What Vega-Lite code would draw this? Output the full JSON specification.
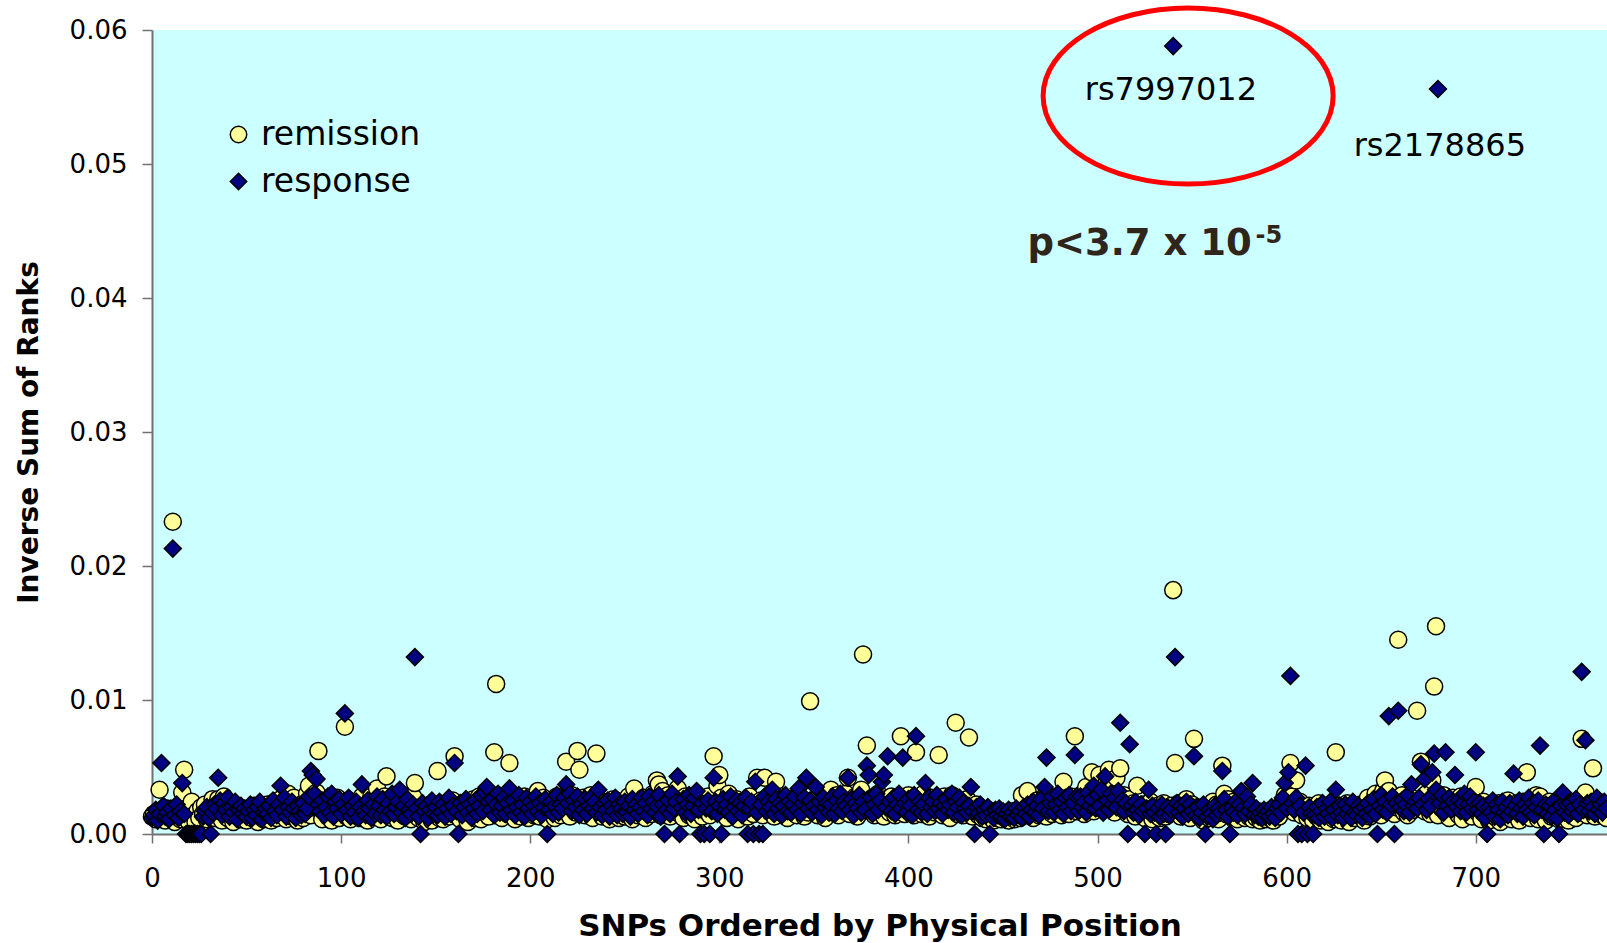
{
"$schema":"https://vega.github.io/schema/vega-lite/v6.json",
"width":1455,"height":804,
"autosize":{"type":"none"},
"padding":{"left":152,"top":30,"right":0,"bottom":109},
"background":"white",
"config":{"view":{"fill":"#CCFFFF","stroke":null}},
"encoding":{
"x":{"field":"x","type":"quantitative","scale":{"domain":[0,769.4],"nice":false,"zero":false},"axis":{"values":[0,100,200,300,400,500,600,700],"title":"SNPs Ordered by Physical Position","grid":false,"domainColor":"#707070","domainWidth":2,"tickColor":"#707070","tickWidth":1.5,"tickSize":9,"labelFont":"DejaVu Sans","labelFontSize":26,"labelColor":"black","labelPadding":22,"labelFlush":false,"titleFont":"DejaVu Sans","titleFontSize":31,"titleFontWeight":"bold","titleColor":"black","titlePadding":20}},
"y":{"field":"y","type":"quantitative","scale":{"domain":[0,0.06],"nice":false},"axis":{"values":[0,0.01,0.02,0.03,0.04,0.05,0.06],"format":".2f","title":"Inverse Sum of Ranks","grid":false,"domainColor":"#707070","domainWidth":2,"tickColor":"#707070","tickWidth":1.5,"tickSize":10,"labelFont":"DejaVu Sans","labelFontSize":26,"labelColor":"black","labelPadding":15,"labelFlush":false,"titleFont":"DejaVu Sans","titleFontSize":28,"titleFontWeight":"bold","titleColor":"black","titlePadding":26}}
},
"layer":[
{"data":{"values":[
{"x":0,"remission":0.0013,"response":0.0012},{"x":1,"remission":0.0015,"response":0.0014},{"x":2,"remission":0.0011,"response":0.0018},{"x":3,"remission":0.0017,"response":0.0010},{"x":4,"remission":0.0033,"response":0.0015},{"x":5,"remission":0.0012,"response":0.0053},{"x":6,"remission":0.0016,"response":0.0021},{"x":7,"remission":0.0010,"response":0.0013},{"x":8,"remission":0.0019,"response":0.0016},{"x":9,"remission":0.0014,"response":0.0011},
{"x":10,"remission":0.0012,"response":0.0019},{"x":11,"remission":0.0233,"response":0.0213},{"x":12,"remission":0.0009,"response":0.0014},{"x":13,"remission":0.0016,"response":0.0022},{"x":14,"remission":0.0020,"response":0.0012},{"x":15,"remission":0.0011,"response":0.0017},{"x":16,"remission":0.0031,"response":0.0038},{"x":17,"remission":0.0048,"response":0.0015},{"x":18,"remission":0.0013,"response":0},{"x":19,"remission":0.0010,"response":0},
{"x":20,"remission":0.0018,"response":0},{"x":21,"remission":0.0024,"response":0},{"x":22,"remission":0.0014,"response":0},{"x":23,"remission":0.0009,"response":0},{"x":24,"remission":0.0017,"response":0},{"x":25,"remission":0.0012,"response":0},{"x":26,"remission":0.0020,"response":0},{"x":27,"remission":0.0015,"response":0.0013},{"x":28,"remission":0.0022,"response":0.0017},{"x":29,"remission":0.0011,"response":0.0020},
{"x":30,"remission":0.0019,"response":0.0012},{"x":31,"remission":0.0014,"response":0},{"x":32,"remission":0.0026,"response":0.0016},{"x":33,"remission":0.0012,"response":0.0022},{"x":34,"remission":0.0017,"response":0.0019},{"x":35,"remission":0.0026,"response":0.0042},{"x":36,"remission":0.0021,"response":0.0025},{"x":37,"remission":0.0010,"response":0.0014},{"x":38,"remission":0.0028,"response":0.0023},{"x":39,"remission":0.0015,"response":0.0018},
{"x":40,"remission":0.0012,"response":0.0027},{"x":41,"remission":0.0018,"response":0.0013},{"x":42,"remission":0.0023,"response":0.0020},{"x":43,"remission":0.0009,"response":0.0016},{"x":44,"remission":0.0016,"response":0.0024},{"x":45,"remission":0.0020,"response":0.0011},{"x":46,"remission":0.0013,"response":0.0018},{"x":47,"remission":0.0011,"response":0.0021},{"x":48,"remission":0.0017,"response":0.0015},{"x":49,"remission":0.0014,"response":0.0019},
{"x":50,"remission":0.0010,"response":0.0013},{"x":51,"remission":0.0019,"response":0.0017},{"x":52,"remission":0.0015,"response":0.0022},{"x":53,"remission":0.0012,"response":0.0012},{"x":54,"remission":0.0021,"response":0.0018},{"x":55,"remission":0.0016,"response":0.0014},{"x":56,"remission":0.0009,"response":0.0020},{"x":57,"remission":0.0014,"response":0.0024},{"x":58,"remission":0.0018,"response":0.0011},{"x":59,"remission":0.0011,"response":0.0016},
{"x":60,"remission":0.0013,"response":0.0019},{"x":61,"remission":0.0022,"response":0.0015},{"x":62,"remission":0.0017,"response":0.0021},{"x":63,"remission":0.0010,"response":0.0012},{"x":64,"remission":0.0015,"response":0.0025},{"x":65,"remission":0.0024,"response":0.0017},{"x":66,"remission":0.0012,"response":0.0014},{"x":67,"remission":0.0019,"response":0.0022},{"x":68,"remission":0.0026,"response":0.0036},{"x":69,"remission":0.0014,"response":0.0018},
{"x":70,"remission":0.0021,"response":0.0027},{"x":71,"remission":0.0011,"response":0.0013},{"x":72,"remission":0.0030,"response":0.0020},{"x":73,"remission":0.0016,"response":0.0016},{"x":74,"remission":0.0013,"response":0.0024},{"x":75,"remission":0.0027,"response":0.0019},{"x":76,"remission":0.0018,"response":0.0012},{"x":77,"remission":0.0010,"response":0.0021},{"x":78,"remission":0.0015,"response":0.0017},{"x":79,"remission":0.0022,"response":0.0014},
{"x":80,"remission":0.0012,"response":0.0023},{"x":81,"remission":0.0017,"response":0.0015},{"x":82,"remission":0.0030,"response":0.0019},{"x":83,"remission":0.0036,"response":0.0028},{"x":84,"remission":0.0014,"response":0.0047},{"x":85,"remission":0.0020,"response":0.0044},{"x":86,"remission":0.0025,"response":0.0030},{"x":87,"remission":0.0031,"response":0.0041},{"x":88,"remission":0.0062,"response":0.0022},{"x":89,"remission":0.0019,"response":0.0017},
{"x":90,"remission":0.0011,"response":0.0025},{"x":91,"remission":0.0024,"response":0.0014},{"x":92,"remission":0.0016,"response":0.0020},{"x":93,"remission":0.0013,"response":0.0028},{"x":94,"remission":0.0021,"response":0.0016},{"x":95,"remission":0.0010,"response":0.0030},{"x":96,"remission":0.0018,"response":0.0013},{"x":97,"remission":0.0014,"response":0.0024},{"x":98,"remission":0.0027,"response":0.0019},{"x":99,"remission":0.0012,"response":0.0026},
{"x":100,"remission":0.0016,"response":0.0015},{"x":101,"remission":0.0020,"response":0.0022},{"x":102,"remission":0.0080,"response":0.0090},{"x":103,"remission":0.0013,"response":0.0018},{"x":104,"remission":0.0025,"response":0.0027},{"x":105,"remission":0.0011,"response":0.0013},{"x":106,"remission":0.0017,"response":0.0021},{"x":107,"remission":0.0022,"response":0.0016},{"x":108,"remission":0.0014,"response":0.0024},{"x":109,"remission":0.0019,"response":0.0012},
{"x":110,"remission":0.0012,"response":0.0020},{"x":111,"remission":0.0028,"response":0.0037},{"x":112,"remission":0.0015,"response":0.0017},{"x":113,"remission":0.0021,"response":0.0014},{"x":114,"remission":0.0010,"response":0.0025},{"x":115,"remission":0.0018,"response":0.0019},{"x":116,"remission":0.0028,"response":0.0012},{"x":117,"remission":0.0013,"response":0.0022},{"x":118,"remission":0.0024,"response":0.0015},{"x":119,"remission":0.0034,"response":0.0028},
{"x":120,"remission":0.0016,"response":0.0021},{"x":121,"remission":0.0011,"response":0.0014},{"x":122,"remission":0.0020,"response":0.0026},{"x":123,"remission":0.0028,"response":0.0018},{"x":124,"remission":0.0043,"response":0.0013},{"x":125,"remission":0.0014,"response":0.0023},{"x":126,"remission":0.0019,"response":0.0017},{"x":127,"remission":0.0012,"response":0.0030},{"x":128,"remission":0.0023,"response":0.0015},{"x":129,"remission":0.0017,"response":0.0020},
{"x":130,"remission":0.0010,"response":0.0024},{"x":131,"remission":0.0022,"response":0.0033},{"x":132,"remission":0.0015,"response":0.0016},{"x":133,"remission":0.0027,"response":0.0021},{"x":134,"remission":0.0013,"response":0.0012},{"x":135,"remission":0.0018,"response":0.0026},{"x":136,"remission":0.0024,"response":0.0018},{"x":137,"remission":0.0011,"response":0.0015},{"x":138,"remission":0.0028,"response":0.0022},{"x":139,"remission":0.0038,"response":0.0132},
{"x":140,"remission":0.0016,"response":0.0019},{"x":141,"remission":0.0012,"response":0.0013},{"x":142,"remission":0.0020,"response":0},{"x":143,"remission":0.0014,"response":0.0023},{"x":144,"remission":0.0009,"response":0.0017},{"x":145,"remission":0.0017,"response":0.0021},{"x":146,"remission":0.0021,"response":0.0012},{"x":147,"remission":0.0013,"response":0.0018},{"x":148,"remission":0.0010,"response":0.0025},{"x":149,"remission":0.0018,"response":0.0015},
{"x":150,"remission":0.0015,"response":0.0020},{"x":151,"remission":0.0047,"response":0.0014},{"x":152,"remission":0.0012,"response":0.0024},{"x":153,"remission":0.0019,"response":0.0016},{"x":154,"remission":0.0011,"response":0.0022},{"x":155,"remission":0.0016,"response":0.0013},{"x":156,"remission":0.0022,"response":0.0019},{"x":157,"remission":0.0013,"response":0.0027},{"x":158,"remission":0.0018,"response":0.0015},{"x":159,"remission":0.0025,"response":0.0021},
{"x":160,"remission":0.0058,"response":0.0053},{"x":161,"remission":0.0014,"response":0.0017},{"x":162,"remission":0.0020,"response":0},{"x":163,"remission":0.0011,"response":0.0023},{"x":164,"remission":0.0017,"response":0.0014},{"x":165,"remission":0.0023,"response":0.0020},{"x":166,"remission":0.0013,"response":0.0026},{"x":167,"remission":0.0009,"response":0.0016},{"x":168,"remission":0.0019,"response":0.0022},{"x":169,"remission":0.0015,"response":0.0012},
{"x":170,"remission":0.0026,"response":0.0019},{"x":171,"remission":0.0012,"response":0.0025},{"x":172,"remission":0.0018,"response":0.0015},{"x":173,"remission":0.0028,"response":0.0021},{"x":174,"remission":0.0011,"response":0.0029},{"x":175,"remission":0.0022,"response":0.0017},{"x":176,"remission":0.0016,"response":0.0031},{"x":177,"remission":0.0027,"response":0.0035},{"x":178,"remission":0.0013,"response":0.0024},{"x":179,"remission":0.0020,"response":0.0018},
{"x":180,"remission":0.0029,"response":0.0026},{"x":181,"remission":0.0061,"response":0.0014},{"x":182,"remission":0.0112,"response":0.0022},{"x":183,"remission":0.0017,"response":0.0030},{"x":184,"remission":0.0024,"response":0.0016},{"x":185,"remission":0.0012,"response":0.0021},{"x":186,"remission":0.0019,"response":0.0027},{"x":187,"remission":0.0028,"response":0.0015},{"x":188,"remission":0.0015,"response":0.0023},{"x":189,"remission":0.0053,"response":0.0034},
{"x":190,"remission":0.0014,"response":0.0018},{"x":191,"remission":0.0021,"response":0.0025},{"x":192,"remission":0.0011,"response":0.0014},{"x":193,"remission":0.0026,"response":0.0020},{"x":194,"remission":0.0017,"response":0.0029},{"x":195,"remission":0.0013,"response":0.0016},{"x":196,"remission":0.0022,"response":0.0022},{"x":197,"remission":0.0028,"response":0.0013},{"x":198,"remission":0.0016,"response":0.0027},{"x":199,"remission":0.0012,"response":0.0019},
{"x":200,"remission":0.0025,"response":0.0024},{"x":201,"remission":0.0018,"response":0.0015},{"x":202,"remission":0.0014,"response":0.0021},{"x":203,"remission":0.0021,"response":0.0028},{"x":204,"remission":0.0032,"response":0.0017},{"x":205,"remission":0.0013,"response":0.0023},{"x":206,"remission":0.0019,"response":0.0014},{"x":207,"remission":0.0027,"response":0.0020},{"x":208,"remission":0.0015,"response":0.0026},{"x":209,"remission":0.0011,"response":0},
{"x":210,"remission":0.0020,"response":0.0018},{"x":211,"remission":0.0016,"response":0.0024},{"x":212,"remission":0.0023,"response":0.0015},{"x":213,"remission":0.0012,"response":0.0021},{"x":214,"remission":0.0028,"response":0.0029},{"x":215,"remission":0.0017,"response":0.0016},{"x":216,"remission":0.0014,"response":0.0022},{"x":217,"remission":0.0026,"response":0.0019},{"x":218,"remission":0.0021,"response":0.0027},{"x":219,"remission":0.0054,"response":0.0037},
{"x":220,"remission":0.0018,"response":0.0023},{"x":221,"remission":0.0013,"response":0.0030},{"x":222,"remission":0.0029,"response":0.0017},{"x":223,"remission":0.0022,"response":0.0025},{"x":224,"remission":0.0016,"response":0.0020},{"x":225,"remission":0.0062,"response":0.0028},{"x":226,"remission":0.0048,"response":0.0014},{"x":227,"remission":0.0020,"response":0.0022},{"x":228,"remission":0.0027,"response":0.0018},{"x":229,"remission":0.0014,"response":0.0026},
{"x":230,"remission":0.0024,"response":0.0015},{"x":231,"remission":0.0017,"response":0.0021},{"x":232,"remission":0.0029,"response":0.0027},{"x":233,"remission":0.0012,"response":0.0019},{"x":234,"remission":0.0021,"response":0.0024},{"x":235,"remission":0.0060,"response":0.0016},{"x":236,"remission":0.0018,"response":0.0033},{"x":237,"remission":0.0025,"response":0.0020},{"x":238,"remission":0.0013,"response":0.0014},{"x":239,"remission":0.0020,"response":0.0023},
{"x":240,"remission":0.0015,"response":0.0018},{"x":241,"remission":0.0022,"response":0.0025},{"x":242,"remission":0.0011,"response":0.0013},{"x":243,"remission":0.0018,"response":0.0021},{"x":244,"remission":0.0026,"response":0.0017},{"x":245,"remission":0.0014,"response":0.0027},{"x":246,"remission":0.0020,"response":0.0014},{"x":247,"remission":0.0012,"response":0.0022},{"x":248,"remission":0.0017,"response":0.0019},{"x":249,"remission":0.0023,"response":0.0015},
{"x":250,"remission":0.0013,"response":0.0024},{"x":251,"remission":0.0019,"response":0.0016},{"x":252,"remission":0.0028,"response":0.0021},{"x":253,"remission":0.0015,"response":0.0013},{"x":254,"remission":0.0011,"response":0.0026},{"x":255,"remission":0.0034,"response":0.0018},{"x":256,"remission":0.0018,"response":0.0022},{"x":257,"remission":0.0014,"response":0.0015},{"x":258,"remission":0.0022,"response":0.0020},{"x":259,"remission":0.0016,"response":0.0027},
{"x":260,"remission":0.0027,"response":0.0017},{"x":261,"remission":0.0012,"response":0.0023},{"x":262,"remission":0.0020,"response":0.0014},{"x":263,"remission":0.0025,"response":0.0028},{"x":264,"remission":0.0015,"response":0.0019},{"x":265,"remission":0.0030,"response":0.0024},{"x":266,"remission":0.0018,"response":0.0016},{"x":267,"remission":0.0040,"response":0.0021},{"x":268,"remission":0.0037,"response":0.0029},{"x":269,"remission":0.0014,"response":0.0013},
{"x":270,"remission":0.0032,"response":0.0022},{"x":271,"remission":0.0020,"response":0},{"x":272,"remission":0.0016,"response":0.0018},{"x":273,"remission":0.0029,"response":0.0025},{"x":274,"remission":0.0013,"response":0.0015},{"x":275,"remission":0.0022,"response":0.0030},{"x":276,"remission":0.0018,"response":0.0019},{"x":277,"remission":0.0026,"response":0.0024},{"x":278,"remission":0.0034,"response":0.0043},{"x":279,"remission":0.0015,"response":0},
{"x":280,"remission":0.0021,"response":0.0020},{"x":281,"remission":0.0012,"response":0.0026},{"x":282,"remission":0.0028,"response":0.0016},{"x":283,"remission":0.0017,"response":0.0022},{"x":284,"remission":0.0014,"response":0.0029},{"x":285,"remission":0.0023,"response":0.0015},{"x":286,"remission":0.0019,"response":0.0021},{"x":287,"remission":0.0011,"response":0.0027},{"x":288,"remission":0.0025,"response":0.0032},{"x":289,"remission":0.0016,"response":0.0018},
{"x":290,"remission":0.0020,"response":0},{"x":291,"remission":0.0013,"response":0.0023},{"x":292,"remission":0.0024,"response":0},{"x":293,"remission":0.0017,"response":0.0019},{"x":294,"remission":0.0028,"response":0.0025},{"x":295,"remission":0.0014,"response":0},{"x":296,"remission":0.0021,"response":0.0017},{"x":297,"remission":0.0058,"response":0.0042},{"x":298,"remission":0.0018,"response":0.0024},{"x":299,"remission":0.0036,"response":0.0015},
{"x":300,"remission":0.0044,"response":0.0021},{"x":301,"remission":0.0027,"response":0},{"x":302,"remission":0.0015,"response":0.0026},{"x":303,"remission":0.0020,"response":0.0018},{"x":304,"remission":0.0012,"response":0.0022},{"x":305,"remission":0.0030,"response":0.0016},{"x":306,"remission":0.0017,"response":0.0028},{"x":307,"remission":0.0023,"response":0.0013},{"x":308,"remission":0.0014,"response":0.0020},{"x":309,"remission":0.0026,"response":0.0025},
{"x":310,"remission":0.0011,"response":0.0017},{"x":311,"remission":0.0019,"response":0.0023},{"x":312,"remission":0.0024,"response":0.0014},{"x":313,"remission":0.0016,"response":0.0021},{"x":314,"remission":0.0021,"response":0.0027},{"x":315,"remission":0.0013,"response":0},{"x":316,"remission":0.0028,"response":0.0019},{"x":317,"remission":0.0018,"response":0.0024},{"x":318,"remission":0.0015,"response":0},{"x":319,"remission":0.0022,"response":0.0039},
{"x":320,"remission":0.0042,"response":0.0016},{"x":321,"remission":0.0017,"response":0},{"x":322,"remission":0.0025,"response":0.0022},{"x":323,"remission":0.0014,"response":0},{"x":324,"remission":0.0042,"response":0.0028},{"x":325,"remission":0.0020,"response":0.0017},{"x":326,"remission":0.0027,"response":0.0024},{"x":327,"remission":0.0016,"response":0.0020},{"x":328,"remission":0.0030,"response":0.0033},{"x":329,"remission":0.0013,"response":0.0015},
{"x":330,"remission":0.0039,"response":0.0026},{"x":331,"remission":0.0022,"response":0.0019},{"x":332,"remission":0.0018,"response":0.0023},{"x":333,"remission":0.0028,"response":0.0014},{"x":334,"remission":0.0015,"response":0.0021},{"x":335,"remission":0.0024,"response":0.0029},{"x":336,"remission":0.0012,"response":0.0017},{"x":337,"remission":0.0019,"response":0.0024},{"x":338,"remission":0.0026,"response":0.0016},{"x":339,"remission":0.0016,"response":0.0022},
{"x":340,"remission":0.0021,"response":0.0028},{"x":341,"remission":0.0014,"response":0.0018},{"x":342,"remission":0.0027,"response":0.0034},{"x":343,"remission":0.0018,"response":0.0015},{"x":344,"remission":0.0023,"response":0.0023},{"x":345,"remission":0.0013,"response":0.0027},{"x":346,"remission":0.0020,"response":0.0042},{"x":347,"remission":0.0016,"response":0.0019},{"x":348,"remission":0.0099,"response":0.0025},{"x":349,"remission":0.0025,"response":0.0016},
{"x":350,"remission":0.0017,"response":0.0021},{"x":351,"remission":0.0022,"response":0.0035},{"x":352,"remission":0.0014,"response":0.0018},{"x":353,"remission":0.0028,"response":0.0024},{"x":354,"remission":0.0019,"response":0.0014},{"x":355,"remission":0.0024,"response":0.0027},{"x":356,"remission":0.0012,"response":0.0020},{"x":357,"remission":0.0027,"response":0.0023},{"x":358,"remission":0.0020,"response":0.0016},{"x":359,"remission":0.0033,"response":0.0022},
{"x":360,"remission":0.0016,"response":0.0028},{"x":361,"remission":0.0023,"response":0.0015},{"x":362,"remission":0.0029,"response":0.0025},{"x":363,"remission":0.0014,"response":0.0019},{"x":364,"remission":0.0021,"response":0.0030},{"x":365,"remission":0.0026,"response":0.0017},{"x":366,"remission":0.0018,"response":0.0024},{"x":367,"remission":0.0030,"response":0.0021},{"x":368,"remission":0.0042,"response":0.0042},{"x":369,"remission":0.0015,"response":0.0018},
{"x":370,"remission":0.0025,"response":0.0026},{"x":371,"remission":0.0020,"response":0.0014},{"x":372,"remission":0.0028,"response":0.0023},{"x":373,"remission":0.0013,"response":0.0019},{"x":374,"remission":0.0022,"response":0.0029},{"x":375,"remission":0.0033,"response":0.0016},{"x":376,"remission":0.0134,"response":0.0024},{"x":377,"remission":0.0019,"response":0.0018},{"x":378,"remission":0.0066,"response":0.0051},{"x":379,"remission":0.0024,"response":0.0044},
{"x":380,"remission":0.0017,"response":0.0027},{"x":381,"remission":0.0027,"response":0.0015},{"x":382,"remission":0.0014,"response":0.0022},{"x":383,"remission":0.0021,"response":0.0030},{"x":384,"remission":0.0030,"response":0.0018},{"x":385,"remission":0.0018,"response":0.0025},{"x":386,"remission":0.0024,"response":0.0039},{"x":387,"remission":0.0013,"response":0.0044},{"x":388,"remission":0.0026,"response":0.0020},{"x":389,"remission":0.0020,"response":0.0058},
{"x":390,"remission":0.0016,"response":0.0024},{"x":391,"remission":0.0028,"response":0.0017},{"x":392,"remission":0.0022,"response":0.0027},{"x":393,"remission":0.0014,"response":0.0015},{"x":394,"remission":0.0025,"response":0.0022},{"x":395,"remission":0.0019,"response":0.0030},{"x":396,"remission":0.0073,"response":0.0019},{"x":397,"remission":0.0027,"response":0.0057},{"x":398,"remission":0.0015,"response":0.0023},{"x":399,"remission":0.0021,"response":0.0016},
{"x":400,"remission":0.0029,"response":0.0026},{"x":401,"remission":0.0017,"response":0.0021},{"x":402,"remission":0.0023,"response":0.0014},{"x":403,"remission":0.0014,"response":0.0029},{"x":404,"remission":0.0061,"response":0.0073},{"x":405,"remission":0.0020,"response":0.0018},{"x":406,"remission":0.0026,"response":0.0024},{"x":407,"remission":0.0015,"response":0.0016},{"x":408,"remission":0.0030,"response":0.0022},{"x":409,"remission":0.0018,"response":0.0038},
{"x":410,"remission":0.0022,"response":0.0015},{"x":411,"remission":0.0013,"response":0.0027},{"x":412,"remission":0.0027,"response":0.0020},{"x":413,"remission":0.0019,"response":0.0024},{"x":414,"remission":0.0016,"response":0.0017},{"x":415,"remission":0.0024,"response":0.0029},{"x":416,"remission":0.0059,"response":0.0019},{"x":417,"remission":0.0020,"response":0.0023},{"x":418,"remission":0.0014,"response":0.0015},{"x":419,"remission":0.0028,"response":0.0021},
{"x":420,"remission":0.0017,"response":0.0026},{"x":421,"remission":0.0023,"response":0.0018},{"x":422,"remission":0.0012,"response":0.0022},{"x":423,"remission":0.0029,"response":0.0030},{"x":424,"remission":0.0019,"response":0.0016},{"x":425,"remission":0.0083,"response":0.0024},{"x":426,"remission":0.0015,"response":0.0020},{"x":427,"remission":0.0025,"response":0.0027},{"x":428,"remission":0.0021,"response":0.0014},{"x":429,"remission":0.0014,"response":0.0023},
{"x":430,"remission":0.0018,"response":0.0019},{"x":431,"remission":0.0026,"response":0.0016},{"x":432,"remission":0.0072,"response":0.0021},{"x":433,"remission":0.0020,"response":0.0035},{"x":434,"remission":0.0013,"response":0.0017},{"x":435,"remission":0.0017,"response":0},{"x":436,"remission":0.0022,"response":0.0020},{"x":437,"remission":0.0014,"response":0.0015},{"x":438,"remission":0.0019,"response":0.0022},{"x":439,"remission":0.0012,"response":0.0013},
{"x":440,"remission":0.0016,"response":0.0018},{"x":441,"remission":0.0011,"response":0.0014},{"x":442,"remission":0.0018,"response":0.0020},{"x":443,"remission":0.0013,"response":0},{"x":444,"remission":0.0015,"response":0.0016},{"x":445,"remission":0.0010,"response":0.0012},{"x":446,"remission":0.0017,"response":0.0018},{"x":447,"remission":0.0012,"response":0.0014},{"x":448,"remission":0.0014,"response":0.0019},{"x":449,"remission":0.0011,"response":0.0013},
{"x":450,"remission":0.0015,"response":0.0017},{"x":451,"remission":0.0012,"response":0.0011},{"x":452,"remission":0.0016,"response":0.0015},{"x":453,"remission":0.0010,"response":0.0018},{"x":454,"remission":0.0014,"response":0.0013},{"x":455,"remission":0.0017,"response":0.0016},{"x":456,"remission":0.0011,"response":0.0012},{"x":457,"remission":0.0013,"response":0.0019},{"x":458,"remission":0.0016,"response":0.0014},{"x":459,"remission":0.0012,"response":0.0017},
{"x":460,"remission":0.0029,"response":0.0012},{"x":461,"remission":0.0014,"response":0.0020},{"x":462,"remission":0.0018,"response":0.0015},{"x":463,"remission":0.0032,"response":0.0022},{"x":464,"remission":0.0016,"response":0.0013},{"x":465,"remission":0.0021,"response":0.0018},{"x":466,"remission":0.0012,"response":0.0024},{"x":467,"remission":0.0019,"response":0.0016},{"x":468,"remission":0.0025,"response":0.0021},{"x":469,"remission":0.0014,"response":0.0014},
{"x":470,"remission":0.0022,"response":0.0026},{"x":471,"remission":0.0017,"response":0.0019},{"x":472,"remission":0.0028,"response":0.0035},{"x":473,"remission":0.0013,"response":0.0057},{"x":474,"remission":0.0024,"response":0.0017},{"x":475,"remission":0.0019,"response":0.0023},{"x":476,"remission":0.0015,"response":0.0028},{"x":477,"remission":0.0027,"response":0.0016},{"x":478,"remission":0.0020,"response":0.0022},{"x":479,"remission":0.0016,"response":0.0030},
{"x":480,"remission":0.0025,"response":0.0018},{"x":481,"remission":0.0014,"response":0.0024},{"x":482,"remission":0.0039,"response":0.0015},{"x":483,"remission":0.0018,"response":0.0027},{"x":484,"remission":0.0023,"response":0.0020},{"x":485,"remission":0.0015,"response":0.0029},{"x":486,"remission":0.0028,"response":0.0017},{"x":487,"remission":0.0021,"response":0.0023},{"x":488,"remission":0.0073,"response":0.0059},{"x":489,"remission":0.0017,"response":0.0028},
{"x":490,"remission":0.0022,"response":0.0017},{"x":491,"remission":0.0018,"response":0.0028},{"x":492,"remission":0.0030,"response":0.0020},{"x":493,"remission":0.0015,"response":0.0024},{"x":494,"remission":0.0035,"response":0.0016},{"x":495,"remission":0.0020,"response":0.0031},{"x":496,"remission":0.0026,"response":0.0021},{"x":497,"remission":0.0046,"response":0.0026},{"x":498,"remission":0.0017,"response":0.0036},{"x":499,"remission":0.0031,"response":0.0019},
{"x":500,"remission":0.0022,"response":0.0029},{"x":501,"remission":0.0044,"response":0.0021},{"x":502,"remission":0.0019,"response":0.0033},{"x":503,"remission":0.0028,"response":0.0016},{"x":504,"remission":0.0024,"response":0.0043},{"x":505,"remission":0.0040,"response":0.0025},{"x":506,"remission":0.0048,"response":0.0018},{"x":507,"remission":0.0020,"response":0.0030},{"x":508,"remission":0.0027,"response":0.0022},{"x":509,"remission":0.0016,"response":0.0027},
{"x":510,"remission":0.0042,"response":0.0020},{"x":511,"remission":0.0024,"response":0.0032},{"x":512,"remission":0.0049,"response":0.0083},{"x":513,"remission":0.0019,"response":0.0025},{"x":514,"remission":0.0029,"response":0.0017},{"x":515,"remission":0.0021,"response":0.0023},{"x":516,"remission":0.0015,"response":0},{"x":517,"remission":0.0026,"response":0.0067},{"x":518,"remission":0.0018,"response":0.0021},{"x":519,"remission":0.0023,"response":0.0016},
{"x":520,"remission":0.0013,"response":0.0024},{"x":521,"remission":0.0036,"response":0.0018},{"x":522,"remission":0.0019,"response":0.0014},{"x":523,"remission":0.0015,"response":0.0022},{"x":524,"remission":0.0022,"response":0.0017},{"x":525,"remission":0.0012,"response":0},{"x":526,"remission":0.0020,"response":0.0019},{"x":527,"remission":0.0017,"response":0.0033},{"x":528,"remission":0.0024,"response":0.0015},{"x":529,"remission":0.0011,"response":0.0021},
{"x":530,"remission":0.0018,"response":0.0016},{"x":531,"remission":0.0014,"response":0},{"x":532,"remission":0.0021,"response":0.0019},{"x":533,"remission":0.0012,"response":0.0013},{"x":534,"remission":0.0017,"response":0.0022},{"x":535,"remission":0.0023,"response":0.0015},{"x":536,"remission":0.0013,"response":0},{"x":537,"remission":0.0019,"response":0.0020},{"x":538,"remission":0.0015,"response":0.0014},{"x":539,"remission":0.0021,"response":0.0018},
{"x":540,"remission":0.0182,"response":0.0588},{"x":541,"remission":0.0053,"response":0.0132},{"x":542,"remission":0.0018,"response":0.0023},{"x":543,"remission":0.0023,"response":0.0016},{"x":544,"remission":0.0013,"response":0.0021},{"x":545,"remission":0.0020,"response":0.0013},{"x":546,"remission":0.0015,"response":0.0019},{"x":547,"remission":0.0026,"response":0.0024},{"x":548,"remission":0.0019,"response":0.0015},{"x":549,"remission":0.0012,"response":0.0022},
{"x":550,"remission":0.0022,"response":0.0017},{"x":551,"remission":0.0071,"response":0.0058},{"x":552,"remission":0.0016,"response":0.0014},{"x":553,"remission":0.0020,"response":0.0020},{"x":554,"remission":0.0013,"response":0.0012},{"x":555,"remission":0.0018,"response":0.0016},{"x":556,"remission":0.0010,"response":0.0022},{"x":557,"remission":0.0015,"response":0},{"x":558,"remission":0.0021,"response":0.0013},{"x":559,"remission":0.0012,"response":0.0018},
{"x":560,"remission":0.0017,"response":0.0015},{"x":561,"remission":0.0024,"response":0.0011},{"x":562,"remission":0.0014,"response":0.0021},{"x":563,"remission":0.0022,"response":0.0014},{"x":564,"remission":0.0011,"response":0.0019},{"x":565,"remission":0.0019,"response":0.0016},{"x":566,"remission":0.0051,"response":0.0047},{"x":567,"remission":0.0030,"response":0.0026},{"x":568,"remission":0.0015,"response":0.0018},{"x":569,"remission":0.0026,"response":0.0013},
{"x":570,"remission":0.0020,"response":0},{"x":571,"remission":0.0013,"response":0.0020},{"x":572,"remission":0.0024,"response":0.0016},{"x":573,"remission":0.0016,"response":0.0024},{"x":574,"remission":0.0011,"response":0.0014},{"x":575,"remission":0.0021,"response":0.0022},{"x":576,"remission":0.0015,"response":0.0032},{"x":577,"remission":0.0018,"response":0.0019},{"x":578,"remission":0.0012,"response":0.0015},{"x":579,"remission":0.0023,"response":0.0028},
{"x":580,"remission":0.0013,"response":0.0017},{"x":581,"remission":0.0018,"response":0.0022},{"x":582,"remission":0.0011,"response":0.0038},{"x":583,"remission":0.0015,"response":0.0014},{"x":584,"remission":0.0012,"response":0.0019},{"x":585,"remission":0.0017,"response":0.0013},{"x":586,"remission":0.0010,"response":0.0016},{"x":587,"remission":0.0014,"response":0.0012},{"x":588,"remission":0.0016,"response":0.0018},{"x":589,"remission":0.0011,"response":0.0014},
{"x":590,"remission":0.0015,"response":0.0017},{"x":591,"remission":0.0012,"response":0.0013},{"x":592,"remission":0.0018,"response":0.0020},{"x":593,"remission":0.0010,"response":0.0015},{"x":594,"remission":0.0014,"response":0.0012},{"x":595,"remission":0.0017,"response":0.0019},{"x":596,"remission":0.0013,"response":0.0022},{"x":597,"remission":0.0020,"response":0.0016},{"x":598,"remission":0.0024,"response":0.0027},{"x":599,"remission":0.0029,"response":0.0038},
{"x":600,"remission":0.0026,"response":0.0019},{"x":601,"remission":0.0021,"response":0.0046},{"x":602,"remission":0.0053,"response":0.0118},{"x":603,"remission":0.0028,"response":0.0023},{"x":604,"remission":0.0016,"response":0.0018},{"x":605,"remission":0.0040,"response":0.0027},{"x":606,"remission":0.0019,"response":0},{"x":607,"remission":0.0024,"response":0.0021},{"x":608,"remission":0.0014,"response":0},{"x":609,"remission":0.0020,"response":0.0016},
{"x":610,"remission":0.0017,"response":0.0051},{"x":611,"remission":0.0012,"response":0},{"x":612,"remission":0.0021,"response":0.0020},{"x":613,"remission":0.0015,"response":0.0015},{"x":614,"remission":0.0010,"response":0},{"x":615,"remission":0.0018,"response":0.0014},{"x":616,"remission":0.0013,"response":0.0020},{"x":617,"remission":0.0023,"response":0.0012},{"x":618,"remission":0.0010,"response":0.0017},{"x":619,"remission":0.0016,"response":0.0023},
{"x":620,"remission":0.0012,"response":0.0013},{"x":621,"remission":0.0020,"response":0.0019},{"x":622,"remission":0.0009,"response":0.0015},{"x":623,"remission":0.0018,"response":0.0024},{"x":624,"remission":0.0014,"response":0.0012},{"x":625,"remission":0.0011,"response":0.0018},{"x":626,"remission":0.0061,"response":0.0033},{"x":627,"remission":0.0016,"response":0.0014},{"x":628,"remission":0.0021,"response":0.0021},{"x":629,"remission":0.0010,"response":0.0016},
{"x":630,"remission":0.0019,"response":0.0012},{"x":631,"remission":0.0013,"response":0.0022},{"x":632,"remission":0.0023,"response":0.0015},{"x":633,"remission":0.0009,"response":0.0019},{"x":634,"remission":0.0016,"response":0.0012},{"x":635,"remission":0.0021,"response":0.0024},{"x":636,"remission":0.0012,"response":0.0016},{"x":637,"remission":0.0018,"response":0.0014},{"x":638,"remission":0.0014,"response":0.0021},{"x":639,"remission":0.0022,"response":0.0018},
{"x":640,"remission":0.0015,"response":0.0012},{"x":641,"remission":0.0010,"response":0.0020},{"x":642,"remission":0.0020,"response":0.0015},{"x":643,"remission":0.0027,"response":0.0023},{"x":644,"remission":0.0013,"response":0.0013},{"x":645,"remission":0.0023,"response":0.0018},{"x":646,"remission":0.0016,"response":0.0026},{"x":647,"remission":0.0030,"response":0.0015},{"x":648,"remission":0.0019,"response":0},{"x":649,"remission":0.0025,"response":0.0021},
{"x":650,"remission":0.0014,"response":0.0029},{"x":651,"remission":0.0032,"response":0.0018},{"x":652,"remission":0.0040,"response":0.0024},{"x":653,"remission":0.0021,"response":0.0016},{"x":654,"remission":0.0032,"response":0.0088},{"x":655,"remission":0.0017,"response":0.0022},{"x":656,"remission":0.0024,"response":0.0028},{"x":657,"remission":0.0015,"response":0},{"x":658,"remission":0.0020,"response":0.0023},{"x":659,"remission":0.0145,"response":0.0092},
{"x":660,"remission":0.0022,"response":0.0020},{"x":661,"remission":0.0029,"response":0.0025},{"x":662,"remission":0.0016,"response":0.0017},{"x":663,"remission":0.0025,"response":0.0022},{"x":664,"remission":0.0014,"response":0.0029},{"x":665,"remission":0.0020,"response":0.0016},{"x":666,"remission":0.0027,"response":0.0037},{"x":667,"remission":0.0018,"response":0.0021},{"x":668,"remission":0.0023,"response":0.0024},{"x":669,"remission":0.0092,"response":0.0019},
{"x":670,"remission":0.0021,"response":0.0027},{"x":671,"remission":0.0054,"response":0.0052},{"x":672,"remission":0.0024,"response":0.0022},{"x":673,"remission":0.0017,"response":0.0041},{"x":674,"remission":0.0030,"response":0.0018},{"x":675,"remission":0.0022,"response":0.0026},{"x":676,"remission":0.0015,"response":0.0021},{"x":677,"remission":0.0040,"response":0.0046},{"x":678,"remission":0.0110,"response":0.0060},{"x":679,"remission":0.0155,"response":0.0033},
{"x":680,"remission":0.0014,"response":0.0556},{"x":681,"remission":0.0026,"response":0.0023},{"x":682,"remission":0.0019,"response":0.0029},{"x":683,"remission":0.0029,"response":0.0016},{"x":684,"remission":0.0016,"response":0.0061},{"x":685,"remission":0.0024,"response":0.0021},{"x":686,"remission":0.0012,"response":0.0027},{"x":687,"remission":0.0021,"response":0.0018},{"x":688,"remission":0.0027,"response":0.0024},{"x":689,"remission":0.0018,"response":0.0044},
{"x":690,"remission":0.0023,"response":0.0020},{"x":691,"remission":0.0014,"response":0.0025},{"x":692,"remission":0.0028,"response":0.0017},{"x":693,"remission":0.0011,"response":0.0023},{"x":694,"remission":0.0020,"response":0.0030},{"x":695,"remission":0.0025,"response":0.0016},{"x":696,"remission":0.0016,"response":0.0022},{"x":697,"remission":0.0022,"response":0.0028},{"x":698,"remission":0.0013,"response":0.0019},{"x":699,"remission":0.0021,"response":0.0024},
{"x":700,"remission":0.0035,"response":0.0061},{"x":701,"remission":0.0016,"response":0.0018},{"x":702,"remission":0.0020,"response":0.0023},{"x":703,"remission":0.0011,"response":0.0015},{"x":704,"remission":0.0024,"response":0.0021},{"x":705,"remission":0.0015,"response":0.0012},{"x":706,"remission":0.0019,"response":0},{"x":707,"remission":0.0010,"response":0.0020},{"x":708,"remission":0.0022,"response":0.0016},{"x":709,"remission":0.0014,"response":0.0025},
{"x":710,"remission":0.0018,"response":0.0013},{"x":711,"remission":0.0012,"response":0.0022},{"x":712,"remission":0.0023,"response":0.0018},{"x":713,"remission":0.0009,"response":0.0011},{"x":714,"remission":0.0017,"response":0.0024},{"x":715,"remission":0.0021,"response":0.0016},{"x":716,"remission":0.0013,"response":0.0020},{"x":717,"remission":0.0025,"response":0.0014},{"x":718,"remission":0.0016,"response":0.0023},{"x":719,"remission":0.0011,"response":0.0017},
{"x":720,"remission":0.0020,"response":0.0045},{"x":721,"remission":0.0014,"response":0.0021},{"x":722,"remission":0.0023,"response":0.0015},{"x":723,"remission":0.0010,"response":0.0025},{"x":724,"remission":0.0018,"response":0.0019},{"x":725,"remission":0.0024,"response":0.0013},{"x":726,"remission":0.0015,"response":0.0022},{"x":727,"remission":0.0046,"response":0.0018},{"x":728,"remission":0.0019,"response":0.0027},{"x":729,"remission":0.0012,"response":0.0016},
{"x":730,"remission":0.0021,"response":0.0023},{"x":731,"remission":0.0016,"response":0.0014},{"x":732,"remission":0.0029,"response":0.0020},{"x":733,"remission":0.0011,"response":0.0025},{"x":734,"remission":0.0028,"response":0.0066},{"x":735,"remission":0.0014,"response":0.0018},{"x":736,"remission":0.0019,"response":0},{"x":737,"remission":0.0010,"response":0.0022},{"x":738,"remission":0.0017,"response":0.0015},{"x":739,"remission":0.0024,"response":0.0021},
{"x":740,"remission":0.0013,"response":0.0013},{"x":741,"remission":0.0020,"response":0.0024},{"x":742,"remission":0.0015,"response":0.0018},{"x":743,"remission":0.0022,"response":0.0012},{"x":744,"remission":0.0011,"response":0},{"x":745,"remission":0.0018,"response":0.0021},{"x":746,"remission":0.0024,"response":0.0031},{"x":747,"remission":0.0014,"response":0.0016},{"x":748,"remission":0.0021,"response":0.0022},{"x":749,"remission":0.0010,"response":0.0014},
{"x":750,"remission":0.0019,"response":0.0023},{"x":751,"remission":0.0015,"response":0.0017},{"x":752,"remission":0.0024,"response":0.0020},{"x":753,"remission":0.0012,"response":0.0026},{"x":754,"remission":0.0020,"response":0.0015},{"x":755,"remission":0.0016,"response":0.0022},{"x":756,"remission":0.0071,"response":0.0121},{"x":757,"remission":0.0021,"response":0.0018},{"x":758,"remission":0.0031,"response":0.0070},{"x":759,"remission":0.0014,"response":0.0023},
{"x":760,"remission":0.0022,"response":0.0017},{"x":761,"remission":0.0017,"response":0.0024},{"x":762,"remission":0.0049,"response":0.0020},{"x":763,"remission":0.0013,"response":0.0015},{"x":764,"remission":0.0020,"response":0.0027},{"x":765,"remission":0.0024,"response":0.0018},{"x":766,"remission":0.0015,"response":0.0022},{"x":767,"remission":0.0021,"response":0.0016},{"x":768,"remission":0.0018,"response":0.0024},{"x":769,"remission":0.0012,"response":0.0019}
]},
"transform":[{"fold":["remission","response"],"as":["series","y"]}],
"mark":{"type":"point","filled":true,"opacity":1,"size":290,"stroke":"black","strokeWidth":1.5},
"encoding":{
"fill":{"field":"series","type":"nominal","scale":{"domain":["remission","response"],"range":["#FFFF99","#000080"]},"legend":{"title":null,"orient":"none","legendX":70,"legendY":88,"padding":0,"labelFont":"DejaVu Sans","labelFontSize":33,"labelColor":"black","symbolSize":270,"symbolStrokeColor":"black","symbolStrokeWidth":1.5,"symbolOpacity":1,"labelOffset":6,"rowPadding":13}},
"shape":{"field":"series","type":"nominal","scale":{"domain":["remission","response"],"range":["circle","diamond"]}},
"order":{"field":"series"}
}},
{"data":{"values":[{"x":547.9,"y":0.05507}]},
"mark":{"type":"point","shape":"M -1 0 A 1 0.607 0 1 1 1 0 A 1 0.607 0 1 1 -1 0 Z","size":84100,"filled":false,"stroke":"#FF0000","strokeWidth":5,"opacity":1}},
{"data":{"values":[{"x":538.8,"y":0.05475,"label":"rs7997012"},{"x":681,"y":0.0506,"label":"rs2178865"}]},
"mark":{"type":"text","font":"DejaVu Sans","fontSize":32,"color":"black","align":"center","baseline":"alphabetic"},
"encoding":{"text":{"field":"label"}}},
{"data":{"values":[{"x":463,"y":0.0432,"label":"p<3.7 x 10"}]},
"mark":{"type":"text","font":"DejaVu Sans","fontSize":37,"fontWeight":"bold","color":"#30251A","align":"left","baseline":"alphabetic"},
"encoding":{"text":{"field":"label"}}},
{"data":{"values":[{"x":583.5,"y":0.0441,"label":"-5"}]},
"mark":{"type":"text","font":"DejaVu Sans","fontSize":24,"fontWeight":"bold","color":"#30251A","align":"left","baseline":"alphabetic"},
"encoding":{"text":{"field":"label"}}}
]
}
